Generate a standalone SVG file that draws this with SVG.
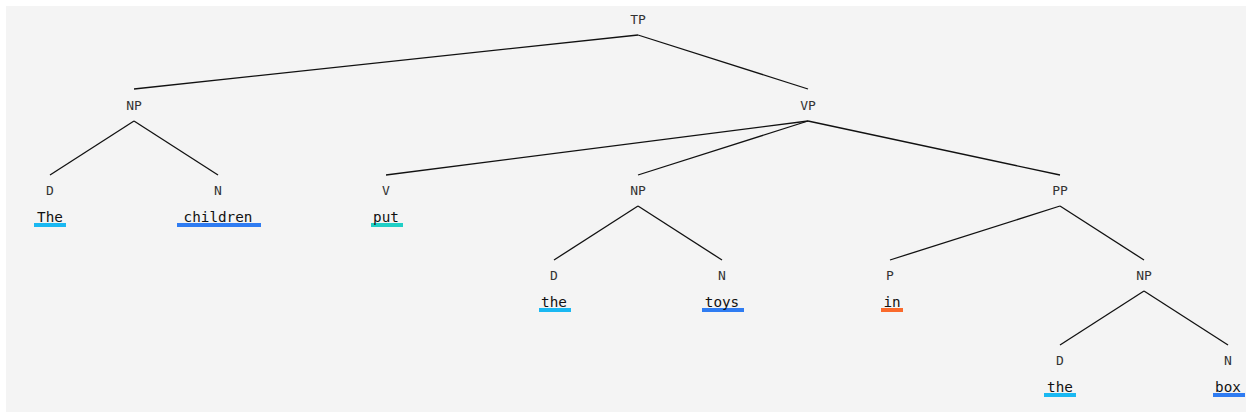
<svg xmlns="http://www.w3.org/2000/svg" width="1252" height="418" viewBox="0 0 1252 418">
<style>
.lbl{font-family:"DejaVu Sans Mono","Liberation Mono",monospace;font-size:13px;fill:#333;text-anchor:middle}
.wd{font-family:"DejaVu Sans Mono","Liberation Mono",monospace;font-size:14.3px;fill:#111;text-anchor:middle}
.edge{stroke:#111;stroke-width:1.3;fill:none}
</style>
<rect x="0" y="0" width="1252" height="418" fill="#ffffff"/>
<rect x="6" y="6" width="1240" height="406" fill="#f4f4f4"/>
<g id="connectors">
<line class="edge" x1="638" y1="35" x2="134" y2="89"/>
<line class="edge" x1="638" y1="35" x2="808" y2="89"/>
<line class="edge" x1="134" y1="121" x2="50" y2="175"/>
<line class="edge" x1="134" y1="121" x2="218" y2="175"/>
<line class="edge" x1="808" y1="121" x2="386" y2="175"/>
<line class="edge" x1="808" y1="121" x2="638" y2="175"/>
<line class="edge" x1="808" y1="121" x2="1060" y2="175"/>
<line class="edge" x1="638" y1="206" x2="554" y2="260"/>
<line class="edge" x1="638" y1="206" x2="722" y2="260"/>
<line class="edge" x1="1060" y1="206" x2="890" y2="260"/>
<line class="edge" x1="1060" y1="206" x2="1144" y2="260"/>
<line class="edge" x1="1144" y1="291" x2="1060" y2="345"/>
<line class="edge" x1="1144" y1="291" x2="1228" y2="345"/>
</g>
<g id="tp"><text class="lbl" x="638" y="24">TP</text></g>
<g id="np1"><text class="lbl" x="134" y="110">NP</text></g>
<g id="vp"><text class="lbl" x="808" y="110">VP</text></g>
<g id="d1"><text class="lbl" x="50" y="195">D</text><rect x="34" y="223" width="32" height="4" fill="#1ab8f2"/><text class="wd" x="50" y="222">The</text></g>
<g id="n1"><text class="lbl" x="218" y="195">N</text><rect x="177" y="223" width="84" height="4" fill="#2f7cf2"/><text class="wd" x="218" y="222">children</text></g>
<g id="v"><text class="lbl" x="386" y="195">V</text><rect x="371" y="223" width="32" height="4" fill="#20cfc6"/><text class="wd" x="386" y="222">put</text></g>
<g id="np2"><text class="lbl" x="638" y="195">NP</text></g>
<g id="pp"><text class="lbl" x="1060" y="195">PP</text></g>
<g id="d2"><text class="lbl" x="554" y="280">D</text><rect x="539" y="308" width="32" height="4" fill="#1ab8f2"/><text class="wd" x="554" y="307">the</text></g>
<g id="n2"><text class="lbl" x="722" y="280">N</text><rect x="702" y="308" width="42" height="4" fill="#2f7cf2"/><text class="wd" x="722" y="307">toys</text></g>
<g id="p"><text class="lbl" x="890" y="280">P</text><rect x="881" y="308" width="22" height="4" fill="#fa6a2c"/><text class="wd" x="892" y="307">in</text></g>
<g id="np3"><text class="lbl" x="1144" y="280">NP</text></g>
<g id="d3"><text class="lbl" x="1060" y="365">D</text><rect x="1044" y="393" width="32" height="4" fill="#1ab8f2"/><text class="wd" x="1060" y="392">the</text></g>
<g id="n3"><text class="lbl" x="1228" y="365">N</text><rect x="1213" y="393" width="32" height="4" fill="#2f7cf2"/><text class="wd" x="1228" y="392">box</text></g>
</svg>
